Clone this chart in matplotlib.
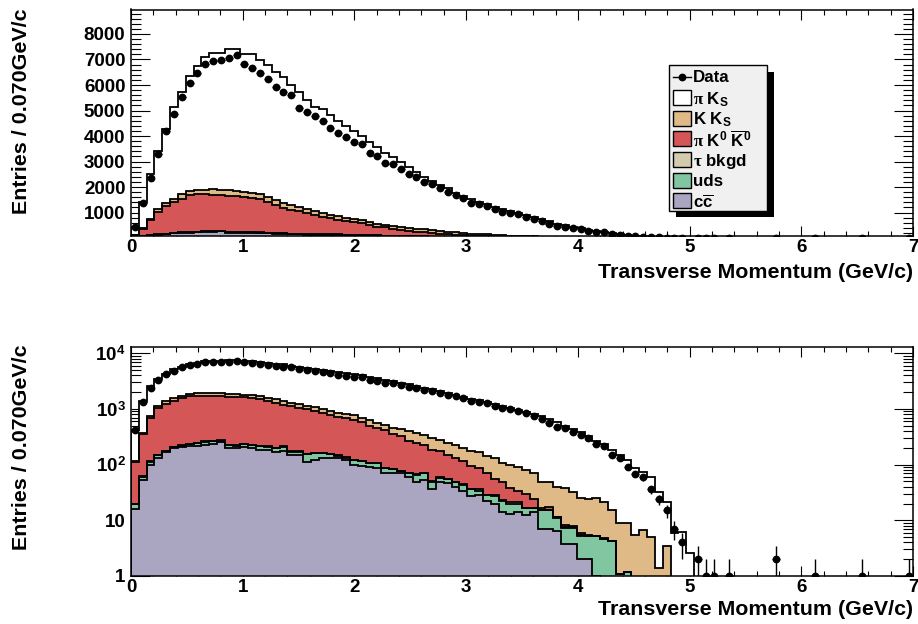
import numpy as np
import matplotlib
matplotlib.use("Agg")
import matplotlib.pyplot as plt
from matplotlib.patches import Rectangle
from matplotlib.ticker import MultipleLocator, FixedLocator, FixedFormatter, LogLocator, NullFormatter

plt.rcParams["font.family"] = ["Liberation Sans", "DejaVu Sans"]
plt.rcParams["font.weight"] = "bold"
plt.rcParams["mathtext.fontset"] = "custom"
plt.rcParams["mathtext.rm"] = "Liberation Sans:bold"
plt.rcParams["mathtext.bf"] = "Liberation Sans:bold"
plt.rcParams["mathtext.sf"] = "Liberation Sans:bold"
plt.rcParams["mathtext.it"] = "Liberation Serif"

# 100 bins of 0.070 GeV/c from 0 to 7
bin_edges = np.linspace(0.0, 7.0, 101)

# observed counts per bin
data_counts = [
    420, 1355, 2344, 3290, 4190, 4860, 5540, 6065, 6482, 6824,
    6954, 6980, 7048, 7177, 6824, 6654, 6482, 6222, 5909, 5736,
    5607, 5108, 4927, 4794, 4598, 4323, 4103, 3969, 3749, 3683,
    3341, 3212, 2925, 2897, 2701, 2505, 2399, 2203, 2101, 1967,
    1810, 1681, 1560, 1390, 1350, 1260, 1120, 1025, 1000, 930,
    830, 755, 660, 550, 480, 450, 380, 340, 295, 230,
    218, 148, 130, 92, 68, 59, 36, 24, 15, 7,
    4, 0, 2, 1, 1, 0, 1, 0, 0, 0,
    0, 0, 2, 0, 0, 0, 0, 1, 0, 0,
    0, 0, 0, 1, 0, 0, 0, 0, 0, 1,
]

# simulated components, first 72 bins (all empty above)
cc_counts = [
    16, 53, 98, 130, 165, 195, 205, 212, 220, 225,
    235, 258, 195, 196, 210, 196, 183, 183, 171, 175,
    149, 149, 113, 121, 130, 133, 130, 121, 98, 96,
    92, 86, 72, 70, 70, 61, 49, 53, 36, 49,
    46, 40, 33, 27, 28, 22, 20, 14, 13, 14,
    12.5, 14, 7, 7, 6.5, 3.8, 3.8, 2.0, 2.0, 1.0,
    0, 0, 0, 0, 0, 0, 0, 0, 0, 0, 0, 0,
]
uds_counts = [
    4, 8, 15, 18, 10, 10, 15, 20, 20, 33,
    30, 12, 30, 24, 21, 29, 33, 27, 25, 35,
    22, 22, 40, 38, 29, 20, 15, 12, 23, 20,
    13, 19, 14, 13, 7, 9, 17, 17, 13, 9,
    9, 8, 10, 9, 6, 6, 7, 8, 7, 6,
    3.9, 2.4, 8, 8, 4.5, 3.5, 3.5, 3.2, 3.2, 4.2,
    4.7, 4.2, 1.1, 1.2, 0, 0, 0, 0, 0, 0, 0, 0,
]
tau_counts = [
    0, 1, 3, 2, 3, 3, 3, 4, 4, 5,
    4, 6, 4, 3, 3, 3, 3, 3, 3, 3,
    3, 2, 3, 2, 2, 2, 2, 2, 2, 2,
    2, 2, 2, 2, 1, 1, 1, 1, 1, 1,
    1, 1, 1, 1, 2, 1, 1, 1, 1, 1,
    0.5, 0.5, 0.5, 0.5, 0.3, 0.3, 0.2, 0.2, 0.1, 0.1,
    0, 0, 0, 0, 0, 0, 0, 0, 0, 0, 0, 0,
]
pik0k0_counts = [
    92, 298, 574, 875, 1062, 1202, 1327, 1454, 1476, 1447,
    1431, 1404, 1431, 1407, 1366, 1342, 1311, 1187, 1091, 967,
    936, 877, 829, 759, 679, 625, 578, 540, 517, 472,
    393, 343, 327, 275, 242, 191, 178, 157, 136, 113,
    94, 82, 70, 56, 51, 42, 26, 26, 17, 12,
    13.1, 7.1, 0.9, 2.0, 0.2, 0.7, 0.5, 0.6, 0.2, 0,
    0.1, 0, 0, 0, 0, 0, 0, 0, 0, 0, 0, 0,
]
kks_counts = [
    6, 15, 40, 95, 150, 140, 160, 170, 180, 190,
    210, 210, 210, 210, 210, 200, 200, 190, 190, 190,
    180, 170, 155, 140, 145, 140, 135, 125, 125, 110,
    125, 115, 100, 100, 120, 133, 120, 112, 114, 106,
    93, 95, 84, 79, 80, 69, 77, 57, 60, 59,
    50, 46, 32.6, 31.5, 28.5, 29.2, 24.7, 19.5, 18.6, 19.5,
    16.8, 11.1, 7.7, 7.6, 5.5, 6.7, 5.0, 1.4, 3.4, 0, 0, 0,
]
piks_counts = [
    292, 1025, 1800, 2300, 2870, 3570, 4030, 4490, 4845, 5210,
    5330, 5380, 5530, 5560, 5390, 5430, 5250, 5195, 5040, 4955,
    4710, 4520, 4270, 4090, 4060, 3900, 3740, 3590, 3420, 3310,
    3130, 3020, 2825, 2725, 2525, 2375, 2230, 2060, 1940, 1797,
    1702, 1544, 1452, 1358, 1263, 1190, 1099, 1024, 952, 878,
    810, 740, 681, 601, 530, 462, 407, 354, 301, 245,
    208, 170, 141, 111, 83, 68, 55, 31, 18, 5.8, 6.2, 2.6,
]

components = [cc_counts, uds_counts, tau_counts, pik0k0_counts, kks_counts, piks_counts]
comp_colors = ["#aaa6c1", "#80c6a1", "#d3cbab", "#d55656", "#e0ba86", "#ffffff"]


def draw_panel(ax, log):
    edges = bin_edges[:len(cc_counts) + 1]
    levels = np.cumsum(np.array(components, dtype=float), axis=0)
    base = 1e-2 if log else 0.0
    for lev, col in zip(levels[::-1], comp_colors[::-1]):
        ax.stairs(np.maximum(lev, base), edges, baseline=base, fill=True,
                  facecolor=col, edgecolor="none", zorder=2)
    for lev in levels[::-1]:
        ax.stairs(np.maximum(lev, base), edges, baseline=base, fill=False,
                  color="black", lw=1.3, zorder=3)

    counts = np.array(data_counts, dtype=float)
    centers = 0.5 * (bin_edges[:-1] + bin_edges[1:])
    m = counts > 0
    err = np.sqrt(counts[m])
    lo = np.minimum(err, counts[m] * 0.999) if log else err
    ax.errorbar(centers[m], counts[m], yerr=[lo, err], xerr=0.035, fmt="o",
                color="black", ms=4.6, elinewidth=1.0, capsize=0, zorder=4)

    ax.set_xlim(0, 7)
    ax.xaxis.set_major_locator(MultipleLocator(1))
    ax.xaxis.set_minor_locator(MultipleLocator(0.2))
    ax.tick_params(which="both", direction="in", top=True, right=True,
                   width=0.8, labelsize=13.5)
    ax.tick_params(axis="x", which="major", length=7.5, pad=2.5)
    ax.tick_params(axis="x", which="minor", length=3.8)
    ax.tick_params(axis="y", which="major", length=14, pad=4)
    ax.tick_params(axis="y", which="minor", length=7)
    for s in ax.spines.values():
        s.set_linewidth(1.1)

    if log:
        ax.set_yscale("log")
        ax.set_ylim(1, 12900)
        ax.yaxis.set_major_locator(FixedLocator([1, 10, 100, 1000, 10000]))
        ax.yaxis.set_major_formatter(FixedFormatter(
            ["1", "10", "$10^{2}$", "$10^{3}$", "$10^{4}$"]))
        ax.yaxis.set_minor_locator(LogLocator(base=10, subs=np.arange(2, 10)))
        ax.yaxis.set_minor_formatter(NullFormatter())
    else:
        ax.set_ylim(80, 8960)
        ax.yaxis.set_major_locator(MultipleLocator(1000))
        ax.yaxis.set_minor_locator(MultipleLocator(200))


fig = plt.figure(figsize=(9.18, 6.24), dpi=100)
W, H = 918.0, 624.0
ax_top = fig.add_axes([131 / W, 1 - 236 / H, 782 / W, 226.5 / H])
ax_bot = fig.add_axes([131 / W, 1 - 576 / H, 782 / W, 229 / H])
draw_panel(ax_top, log=False)
draw_panel(ax_bot, log=True)

xtitle = "Transverse Momentum (GeV/c)"
ytitle = "Entries / 0.070GeV/c"
fig.text(913 / W, 1 - 278 / H, xtitle, ha="right", va="baseline", fontsize=15.4)
fig.text(913 / W, 1 - 615 / H, xtitle, ha="right", va="baseline", fontsize=15.4)
fig.text(22 / W, 1 - 8 / H, ytitle, rotation=90, ha="center", va="top", fontsize=15.4)
fig.text(22 / W, 1 - 345 / H, ytitle, rotation=90, ha="center", va="top", fontsize=15.4)

# legend drawn in pixel coordinates on an overlay
ov = fig.add_axes([0, 0, 1, 1], zorder=10)
ov.set_xlim(0, W)
ov.set_ylim(H, 0)
ov.axis("off")
ov.add_patch(Rectangle((675.5, 71.5), 98, 145.5, facecolor="black", edgecolor="none"))
ov.add_patch(Rectangle((669.3, 65), 98, 145.7, facecolor="#f0f0f0", edgecolor="black", lw=1.0))

leg_labels = [r"$\pi$ K$_{\mathrm{S}}$", r"K K$_{\mathrm{S}}$",
              r"$\pi$ K$^{0}$ $\overline{\mathrm{K}}^{0}$", r"$\tau$ bkgd",
              "uds", r"c$\overline{\mathrm{c}}$"]
row_y = [76.5, 97.5, 118, 138.5, 159, 180, 200.5]
ov.plot([672.5, 690.5], [row_y[0], row_y[0]], color="black", lw=1.0)
ov.plot([681.5], [row_y[0]], "o", color="black", ms=4.6)
ov.text(693, row_y[0], "Data", ha="left", va="center_baseline", fontsize=12.2)
for y, lab, col in zip(row_y[1:], leg_labels, comp_colors[::-1]):
    ov.add_patch(Rectangle((672.5, y - 7.5), 18, 15, facecolor=col, edgecolor="black", lw=1.0))
    ov.text(693, y, lab, ha="left", va="center_baseline", fontsize=12.2)

fig.savefig("out.png", dpi=100)
